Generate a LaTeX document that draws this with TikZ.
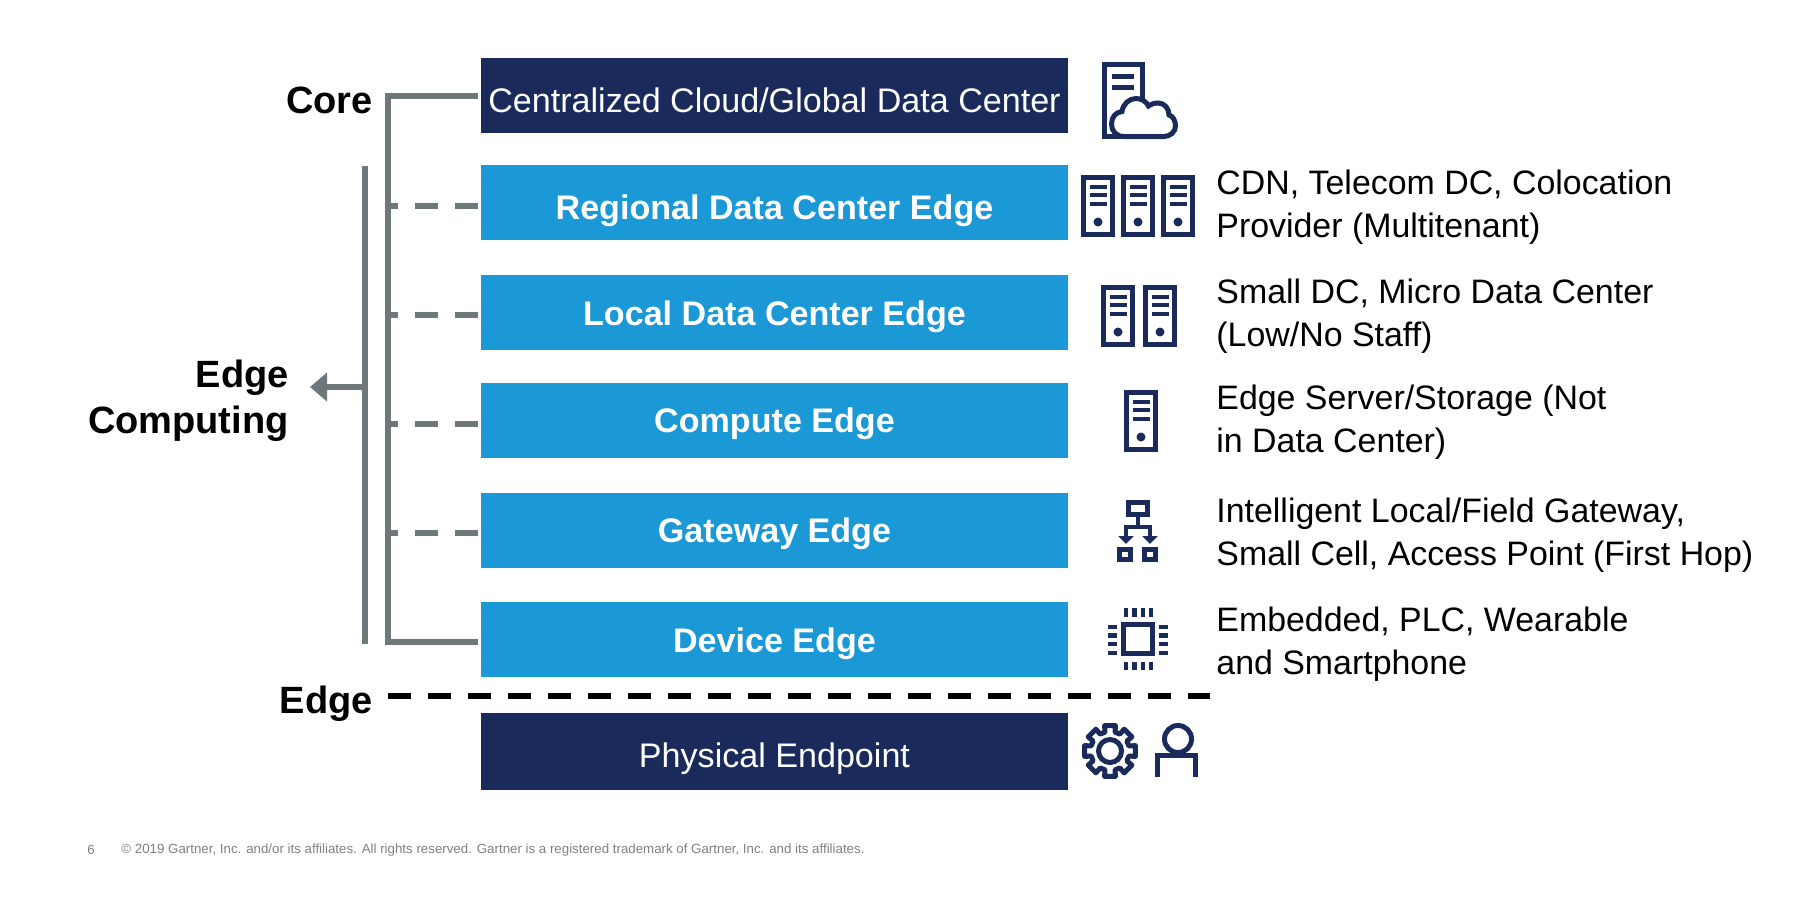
\documentclass[tikz,border=0pt]{standalone}
\usepackage{fontspec}
\setmainfont{Liberation Sans}
\usetikzlibrary{arrows.meta}
\definecolor{navy}{HTML}{1A2A5A}
\definecolor{skyblue}{HTML}{1B98D6}
\definecolor{bargray}{HTML}{6E787A}
\tikzset{
  >=Stealth,
  navybox/.style={rectangle,fill=navy,text=white,minimum width=293.5pt,minimum height=37.5pt,inner sep=0pt,text height=17pt,text depth=2pt,font=\fontsize{17.05}{20}\selectfont},
  bluebox/.style={rectangle,fill=skyblue,text=white,minimum width=293.5pt,minimum height=37.5pt,inner sep=0pt,text height=17pt,text depth=2pt,font=\fontsize{17.05}{20}\selectfont\bfseries},
  sidelbl/.style={anchor=east,align=right,inner sep=0pt,font=\fontsize{19}{23}\selectfont\bfseries},
  desc/.style={anchor=west,align=left,inner sep=0pt,font=\fontsize{16.95}{21.4}\selectfont},
  footer/.style={anchor=west,inner sep=0pt,text=gray,font=\fontsize{6.65}{8}\selectfont},
  bar/.style={draw=bargray,line width=3pt},
  dashbar/.style={draw=bargray,line width=3pt,dash pattern=on 11.5pt off 8.5pt,dash phase=6.5pt},
  icon/.style={draw=navy,line width=2.5pt},
  icondet/.style={draw=navy,line width=2.3pt},
  serverpic/.pic={
    \draw[icon] (2.5,2.5) rectangle (31.5,59.5);
    \foreach \y in {12,20,29}
      \draw[icondet] (8.5,\y) -- (25.5,\y);
    \fill[navy] (17,47) circle (4.5);
  }
}
\begin{document}
\begin{tikzpicture}[x=0.5pt,y=-0.5pt]
    \useasboundingbox (0,0) rectangle (1808,900);

    % Boxes
    \node[navybox,text height=19.3pt] (cloud) at (774.5,95.5) {Centralized Cloud/Global Data Center};
    \node[bluebox,text height=19.3pt] (regional) at (774.5,202.5) {Regional Data Center Edge};
    \node[bluebox,text height=15.8pt] (local) at (774.5,312) {Local Data Center Edge};
    \node[bluebox,text height=13.5pt] (compute) at (774.5,420.5) {Compute Edge};
    \node[bluebox,text height=14.7pt] (gateway) at (774.5,530) {Gateway Edge};
    \node[bluebox,text height=14.7pt] (device) at (774.5,639.5) {Device Edge};
    \node[navybox,minimum height=38.5pt,text height=18pt] (endpoint) at (774.5,751.5) {Physical Endpoint};

    % Side labels
    \node[sidelbl] (corelbl) at (373,100) {Core};
    \node[sidelbl] (edgecomp) at (289,401) {Edge\\Computing};
    \node[sidelbl] (edgelbl) at (373,704) {Edge};

    % Core bracket
    \coordinate (trunk) at (388,380);
    \draw[bar] ([yshift=-0.25pt,xshift=-1.5pt]cloud.west) -| (trunk) |- ([yshift=-1.2pt,xshift=-1.5pt]device.west);
    \foreach \n in {regional,local,compute,gateway}
      \draw[dashbar] ([yshift=-1.5pt]\n.west -| trunk) -- ([yshift=-1.5pt,xshift=-1.5pt]\n.west);

    % Edge computing bar
    \coordinate (edgetop) at (365,166);
    \coordinate (edgebot) at (365,644);
    \coordinate (edgemid) at (365,387);
    \coordinate (edgetip) at (310,387);
    \draw[bar] (edgetop) -- (edgebot);
    \draw[draw=bargray,line width=3pt,-{Triangle[length=8.5pt,width=14pt,fill=bargray]}] (edgemid) -- (edgetip);

    % Edge line
    \coordinate (edgestart) at (388,695.5);
    \coordinate (edgeend) at (1210,695.5);
    \draw[line width=3pt,dash pattern=on 11.5pt off 8.5pt] (edgestart) -- (edgeend);

    % Descriptions
    \node[desc] (cdn) at (1216,207.5) {CDN, Telecom DC, Colocation\\Provider (Multitenant)};
    \node[desc] (smalldc) at (1216,316.5) {Small DC, Micro Data Center\\(Low/No Staff)};
    \node[desc] (server) at (1216,422.5) {Edge Server/Storage (Not\\in Data Center)};
    \node[desc] (field) at (1216,535) {Intelligent Local/Field Gateway,\\Small Cell, Access Point (First Hop)};
    \node[desc] (embedded) at (1216,644) {Embedded, PLC, Wearable\\and Smartphone};

    % Footer
    \node[footer] (pagenum) at (87,850) {6};
    \node[footer] (legal) at (121,850) {© 2019 Gartner, Inc. and/or its affiliates. All rights reserved. Gartner is a registered trademark of Gartner, Inc. and its affiliates.};

    % Cloud icon
    \draw[icon] (1104.5,137) -- (1104.5,64.5) -- (1142.5,64.5) -- (1142.5,110);
    \draw[icon] (1102,136.5) -- (1130,136.5);
    \draw[icon] (1112,76.5) -- (1134,76.5) (1112,87.5) -- (1134,87.5);
    \draw[icon,fill=white] (1124,136.5) .. controls (1116,136.5) and (1111.5,131) .. (1111.5,124)
      .. controls (1111.5,117) and (1116,112) .. (1122,111.5)
      .. controls (1123,104) and (1129,98.5) .. (1136,98.5)
      .. controls (1141,98.5) and (1146,101) .. (1148.5,106)
      .. controls (1151,104) and (1155,103) .. (1158,103)
      .. controls (1165,103) and (1169,109) .. (1169,115)
      .. controls (1173,116) and (1175.5,121) .. (1175.5,126)
      .. controls (1175.5,132) and (1170,136.5) .. (1164,136.5) -- cycle;

    % Server icons
    \foreach \x in {1081,1121,1161}
      \pic at (\x,175) {serverpic};
    \foreach \x in {1101,1143}
      \pic at (\x,285) {serverpic};
    \pic at (1124,390) {serverpic};

    % Gateway icon
    \draw[icondet] (1128.25,502.25) rectangle (1147.75,514.75);
    \draw[icondet] (1138,515) -- (1138,527);
    \draw[icondet,-{Triangle[length=4pt,width=7.5pt]}] (1138,527) -| (1126,544);
    \draw[icondet,-{Triangle[length=4pt,width=7.5pt]}] (1138,527) -| (1150,544);
    \draw[icondet] (1119.25,549.25) rectangle (1130.75,559.75);
    \draw[icondet] (1144.25,549.25) rectangle (1155.75,559.75);

    % Chip icon
    \draw[icon] (1123.5,624.5) rectangle (1152.5,653.5);
    \foreach \p in {1126,1134.5,1143,1151} {
      \draw[icondet] (\p,608) -- (\p,617);
      \draw[icondet] (\p,662) -- (\p,670);
    }
    \foreach \p in {627,635.5,644,653} {
      \draw[icondet] (1108,\p) -- (1117,\p);
      \draw[icondet] (1159,\p) -- (1168,\p);
    }

    % Gear icon
    \begin{scope}[shift={(1110,751)}]
      \draw[icon,line join=round] (-15:19.5)
        \foreach \a in {0,45,...,315} { -- (\a-15:19.5) -- (\a-12:26) -- (\a+12:26) -- (\a+15:19.5) } -- cycle;
      \draw[icon] (0,0) circle (11.5);
    \end{scope}

    % Person icon
    \draw[icon] (1178,739) circle (13.5);
    \draw[icon] (1157.5,777) -- (1157.5,755.5) -- (1195.5,755.5) -- (1195.5,777);

\end{tikzpicture}
\end{document}
